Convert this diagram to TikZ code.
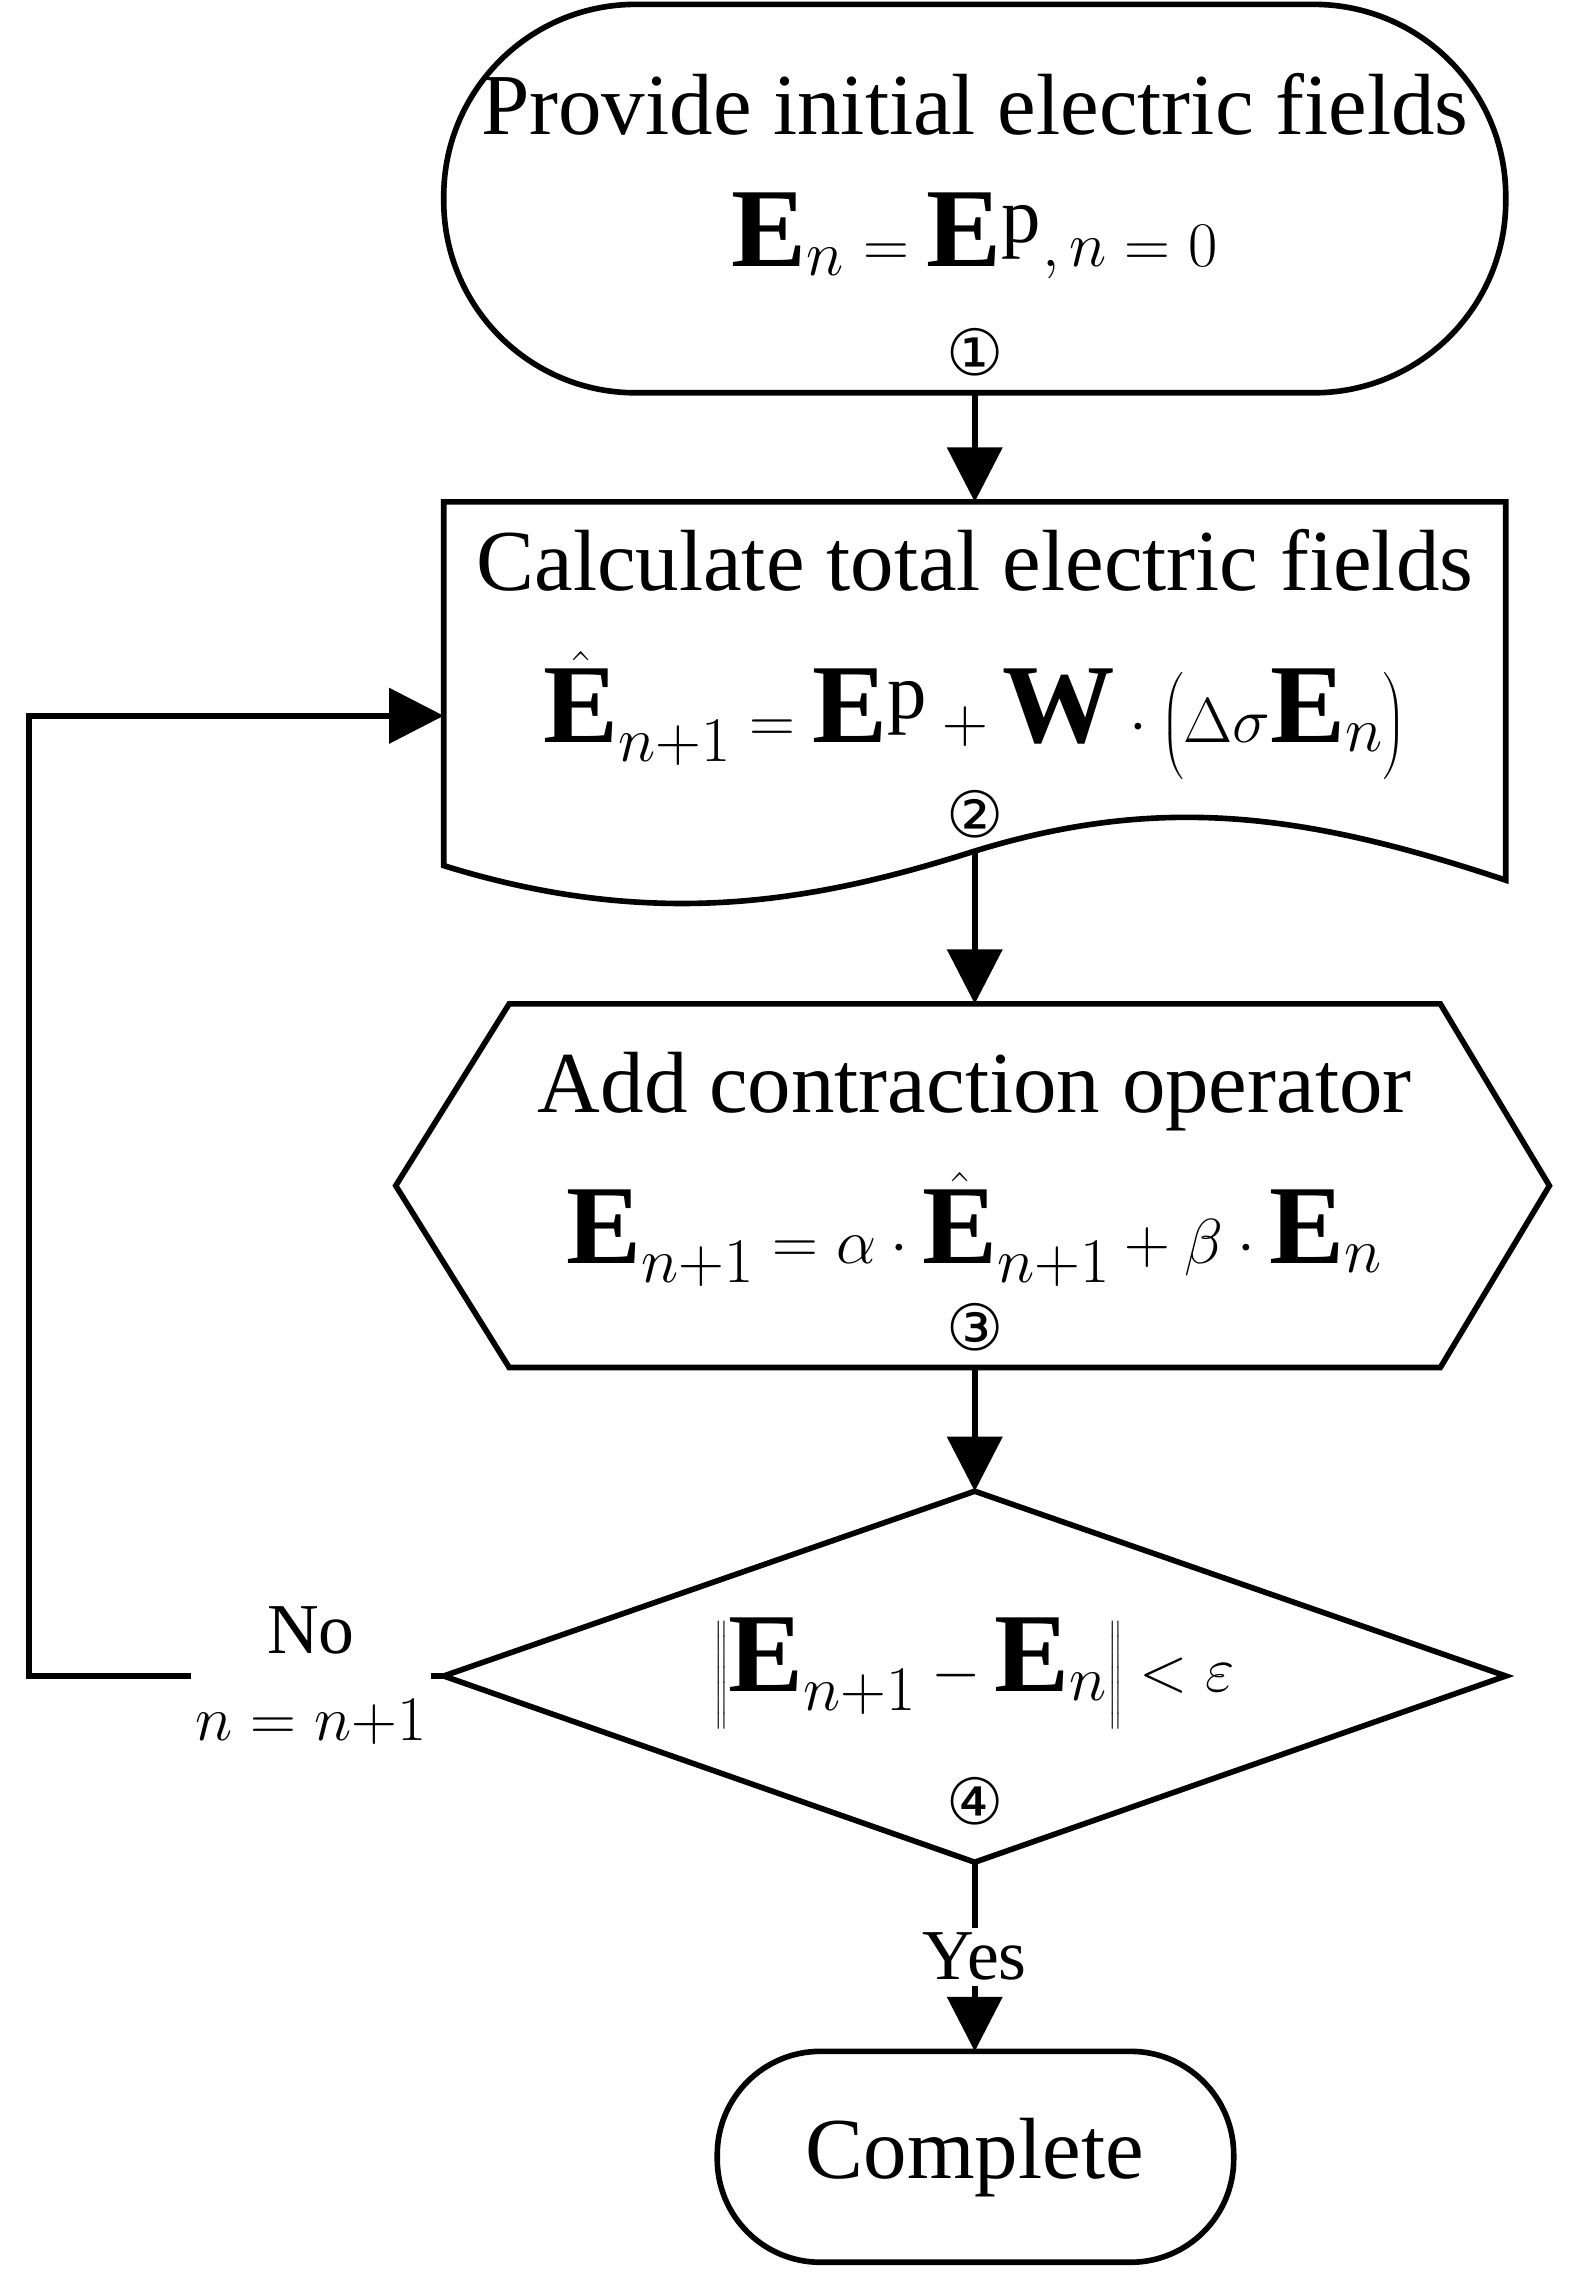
\documentclass[tikz,border=0pt]{standalone}
\usepackage{fontspec}
\setmainfont{Liberation Serif}
\newfontfamily\circfont{DejaVu Sans}
\usetikzlibrary{arrows.meta}
\begin{document}
\begin{tikzpicture}[x={(0.02cm,0)},y={(0,-0.02cm)},
  shp/.style={line width=2.2pt},
  conn/.style={line width=2.2pt,-{Triangle[length=0.75cm,width=0.75cm]}},
  lbl/.style={font=\fontsize{34}{40}\selectfont},
  fml/.style={font=\fontsize{44}{50}\selectfont},
  num/.style={font=\circfont\fontsize{25}{30}\selectfont},
  sml/.style={font=\fontsize{28}{34}\selectfont,fill=white,inner sep=2pt,align=center}]
\useasboundingbox (0,0) rectangle (1080,1572);
% shapes
\draw[shp,rounded corners=2.64cm] (305,3) rectangle (1035,270);
\draw[shp] (305,345) -- (1035,345) -- (1035,605) .. controls (900,560) and (800,545) .. (670,585) .. controls (560,620) and (450,640) .. (305,595) -- cycle;
\draw[shp] (272,815) -- (350,690) -- (990,690) -- (1065,815) -- (990,940) -- (350,940) -- cycle;
\draw[shp] (670,1025) -- (1035,1152) -- (670,1280) -- (305,1152) -- cycle;
\draw[shp,rounded corners=1.42cm] (493,1410) rectangle (848,1555);
% anchor coordinates
\coordinate (t1) at (670,270); \coordinate (d2t) at (670,345);
\coordinate (d2b) at (670,585); \coordinate (h3t) at (670,690);
\coordinate (h3b) at (670,940); \coordinate (d4t) at (670,1025);
\coordinate (d4b) at (670,1280); \coordinate (t5) at (670,1410);
\coordinate (d4l) at (305,1152); \coordinate (d2l) at (305,492);
\coordinate (c1) at (20,1152); \coordinate (c2) at (20,492);
% texts
\node[lbl] (a1) at (670,72) {Provide initial electric fields};
\node[fml] (a2) at (670,162) {$\mathbf{E}_n=\mathbf{E}^{\mathrm{p}}, n=0$};
\node[num] (a3) at (670,242) {①};
\node[lbl] (b1) at (670,385) {Calculate total electric fields};
\node[fml] (b2) at (670,492) {$\hat{\mathbf{E}}_{n+1}=\mathbf{E}^{\mathrm{p}}+\mathbf{W}\cdot\left(\Delta\sigma\mathbf{E}_n\right)$};
\node[num] (b3) at (670,560) {②};
\node[lbl] (c1t) at (670,750) {Add contraction operator};
\node[fml] (c2t) at (670,845) {$\mathbf{E}_{n+1}=\alpha\cdot\hat{\mathbf{E}}_{n+1}+\beta\cdot\mathbf{E}_n$};
\node[num] (c3t) at (670,912) {③};
\node[fml] (d1) at (670,1150) {$\left\|\mathbf{E}_{n+1}-\mathbf{E}_n\right\|<\varepsilon$};
\node[num] (d2) at (670,1238) {④};
\node[lbl] (e1) at (670,1483) {Complete};
% connectors
\draw[conn] (t1) -- (d2t);
\draw[conn] (d2b) -- (h3t);
\draw[conn] (h3b) -- (d4t);
\draw[conn] (d4b) -- node[sml] (yes) {Yes} (t5);
\draw[conn] (d4l) -- node[sml,pos=0.32] (no) {No\\$n=n{+}1$} (c1) -- (c2) -- (d2l);
\end{tikzpicture}
\end{document}
